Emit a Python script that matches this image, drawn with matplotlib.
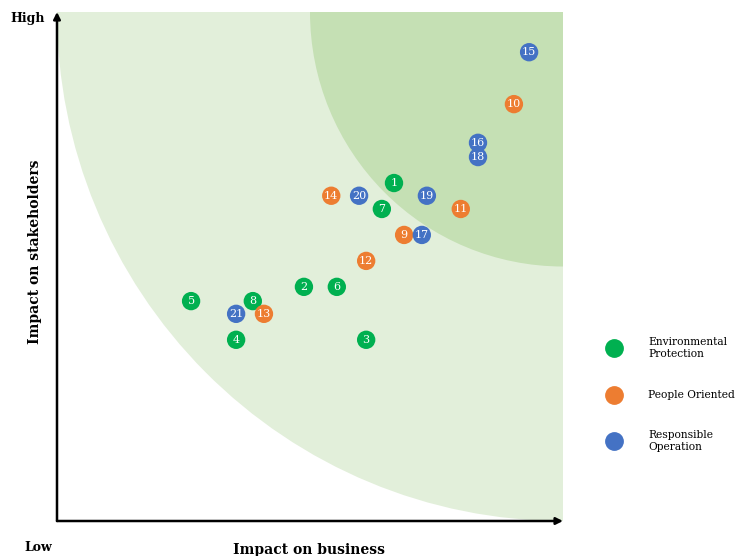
import matplotlib
matplotlib.use('Agg')
import matplotlib.pyplot as plt
from matplotlib.patches import Wedge

# --- data ---
labels = ["1", "2", "3", "4", "5", "6", "7", "8", "9", "10", "11",
          "12", "13", "14", "15", "16", "17", "18", "19", "20", "21"]
business = [6.66, 4.88, 6.11, 3.54, 2.65, 5.53, 6.42, 3.87, 6.86, 9.03, 7.98,
            6.11, 4.09, 5.42, 9.33, 8.32, 7.21, 8.32, 7.31, 5.97, 3.54]
stakeholders = [6.64, 4.60, 3.56, 3.56, 4.32, 4.60, 6.13, 4.32, 5.62, 8.19, 6.13,
                5.11, 4.07, 6.39, 9.21, 7.43, 5.62, 7.15, 6.39, 6.39, 4.07]
groups = ["E", "E", "E", "E", "E", "E", "E", "E", "P", "P", "P",
          "P", "P", "P", "R", "R", "R", "R", "R", "R", "R"]

group_names = ["Environmental\nProtection", "People Oriented", "Responsible\nOperation"]
group_keys = ["E", "P", "R"]
colors = {"E": "#00B050", "P": "#ED7D31", "R": "#4472C4"}

SERIF = ["DejaVu Serif"]

fig = plt.figure(figsize=(7.41, 5.56), dpi=100, facecolor="white")
ax = fig.add_axes([57 / 741, 35 / 556, 506 / 741, 509 / 556])
ax.set_xlim(0, 10)
ax.set_ylim(0, 10)

# Materiality zones: quarter circles from the top-right corner
ax.add_patch(Wedge((10, 10), 10, 180, 270, facecolor="#E2EFDA", edgecolor="none", zorder=0))
ax.add_patch(Wedge((10, 10), 5, 180, 270, facecolor="#C5E0B4", edgecolor="none", zorder=1))

for x, y, lab, g in zip(business, stakeholders, labels, groups):
    ax.scatter(x, y, s=175, color=colors[g], edgecolors="none", zorder=3)
    ax.text(x, y, lab, color="white", fontsize=8, ha="center", va="center",
            family=SERIF, zorder=4)

for s in ax.spines.values():
    s.set_visible(False)
ax.set_xticks([])
ax.set_yticks([])

# Axis arrows
ax.annotate("", xy=(0, 1.0), xytext=(0, 0), xycoords="axes fraction",
            arrowprops=dict(arrowstyle="-|>", color="black", lw=1.8,
                            mutation_scale=10, shrinkA=0, shrinkB=0))
ax.annotate("", xy=(1.0, 0), xytext=(0, 0), xycoords="axes fraction",
            arrowprops=dict(arrowstyle="-|>", color="black", lw=1.8,
                            mutation_scale=10, shrinkA=0, shrinkB=0))

ax.text(-0.024, 0.988, "High", transform=ax.transAxes, ha="right", va="center",
        fontsize=9, fontweight="bold", family=SERIF)
ax.text(-0.01, -0.053, "Low", transform=ax.transAxes, ha="right", va="center",
        fontsize=9, fontweight="bold", family=SERIF)
ax.text(0.498, -0.056, "Impact on business", transform=ax.transAxes, ha="center",
        va="center", fontsize=10, fontweight="bold", family=SERIF)
ax.text(-0.043, 0.528, "Impact on stakeholders", transform=ax.transAxes, ha="center",
        va="center", rotation=90, fontsize=10, fontweight="bold", family=SERIF)

# Legend drawn by hand at the right
leg_y = [348, 395, 441]
for key, name, py in zip(group_keys, group_names, leg_y):
    fig.add_artist(plt.Line2D([614 / 741], [1 - py / 556], marker="o", markersize=12.5,
                              color=colors[key], linestyle="none", transform=fig.transFigure))
    fig.text(648 / 741, 1 - py / 556, name, ha="left", va="center", fontsize=7.7,
             family=SERIF, linespacing=1.25)

fig.savefig("out.png", dpi=100, facecolor="white")
